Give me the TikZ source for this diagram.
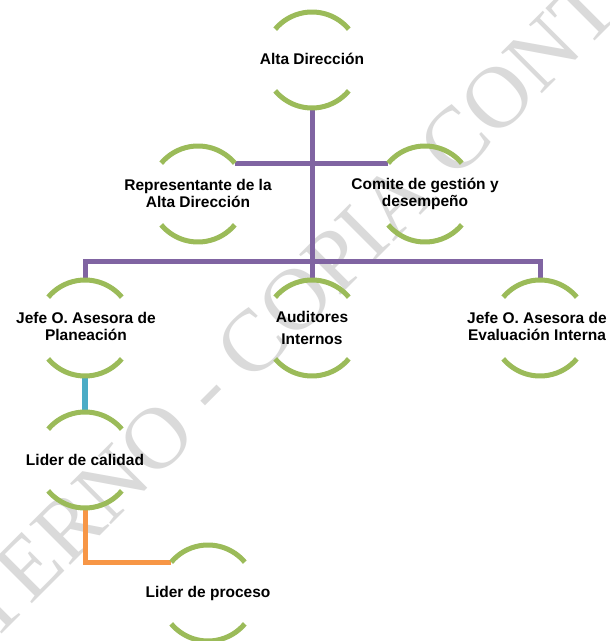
\documentclass[tikz,border=0pt]{standalone}
\usepackage{fontspec}
\setmainfont{Liberation Sans}
\newfontfamily\wmfont{Liberation Serif}
\definecolor{ogreen}{HTML}{9BBB59}
\definecolor{opurple}{HTML}{8064A2}
\definecolor{ocyan}{HTML}{4BACC6}
\definecolor{oorange}{HTML}{F79646}
\definecolor{wmgray}{HTML}{DADADA}
\pgfdeclarelayer{bg}
\pgfdeclarelayer{wm}
\pgfsetlayers{wm,bg,main}
\tikzset{
  arcline/.style={draw=ogreen, line width=5pt},
  purpleline/.style={draw=opurple, line width=5pt},
  cyanline/.style={draw=ocyan, line width=6pt},
  orangeline/.style={draw=oorange, line width=5pt},
  lbl/.style={align=center, inner sep=0pt, text=black,
    font=\fontsize{15.5}{17}\selectfont\bfseries},
  wmtext/.style={inner sep=0pt, text=wmgray, rotate=45,
    font=\fontsize{88}{88}\selectfont\wmfont},
  orgunit/.pic={
    \draw[arcline] (40:48pt) arc (40:140:48pt);
    \draw[arcline] (220:48pt) arc (220:320:48pt);
    \coordinate (-top) at (90:48pt);
    \coordinate (-bot) at (270:48pt);
    \coordinate (-tl) at (140:48pt);
    \coordinate (-tr) at (40:48pt);
  }
}
\begin{document}
\begin{tikzpicture}[x=1pt, y=1pt]
\useasboundingbox (0,0) rectangle (610,641);
% watermark
\begin{pgfonlayer}{wm}
\fill[white] (0,0) rectangle (610,641);
\coordinate (wmp) at (200,205);
\node[wmtext, anchor=base east] (wm1) at (wmp) {INTERNO};
\node[wmtext, anchor=base west] (wm2) at (wmp) {\ - COPIA CONTROLADA};
\end{pgfonlayer}
% units
\pic (ualta) at (312,581) {orgunit};
\pic (urep)  at (198,447) {orgunit};
\pic (ucom)  at (425,447) {orgunit};
\pic (ujefa) at (85,313)  {orgunit};
\pic (uaud)  at (312,313) {orgunit};
\pic (ujefb) at (540,313) {orgunit};
\pic (ulid)  at (85,181)  {orgunit};
\pic (uproc) at (208,48)  {orgunit};
\coordinate (bar) at (0,379);
% connectors
\begin{pgfonlayer}{bg}
\draw[purpleline] (ualta-bot) -- (uaud-top);
\draw[purpleline] (urep-tr) -- (ucom-tl);
\draw[purpleline] (ujefa-top) |- (bar -| ualta-bot) -| (ujefb-top);
\draw[cyanline] (ujefa-bot) -- (ulid-top);
\draw[orangeline] (ulid-bot) |- (uproc-tl);
\end{pgfonlayer}
% labels
\node[lbl] (alta) at (312,582) {Alta Dirección};
\node[lbl] (rep) at (198,447.5) {Representante de la\\Alta Dirección};
\node[lbl] (com) at (425,447.5) {Comite de gestión y\\desempeño};
\node[lbl] (jefa) at (86,314.5) {Jefe O. Asesora de\\Planeación};
\node[lbl] (aud) at (312,313) {Auditores\\[5pt]Internos};
\node[lbl] (jefb) at (537,315) {Jefe O. Asesora de\\Evaluación Interna};
\node[lbl] (lid) at (85,181) {Lider de calidad};
\node[lbl] (proc) at (208,48) {Lider de proceso};
\end{tikzpicture}
\end{document}
